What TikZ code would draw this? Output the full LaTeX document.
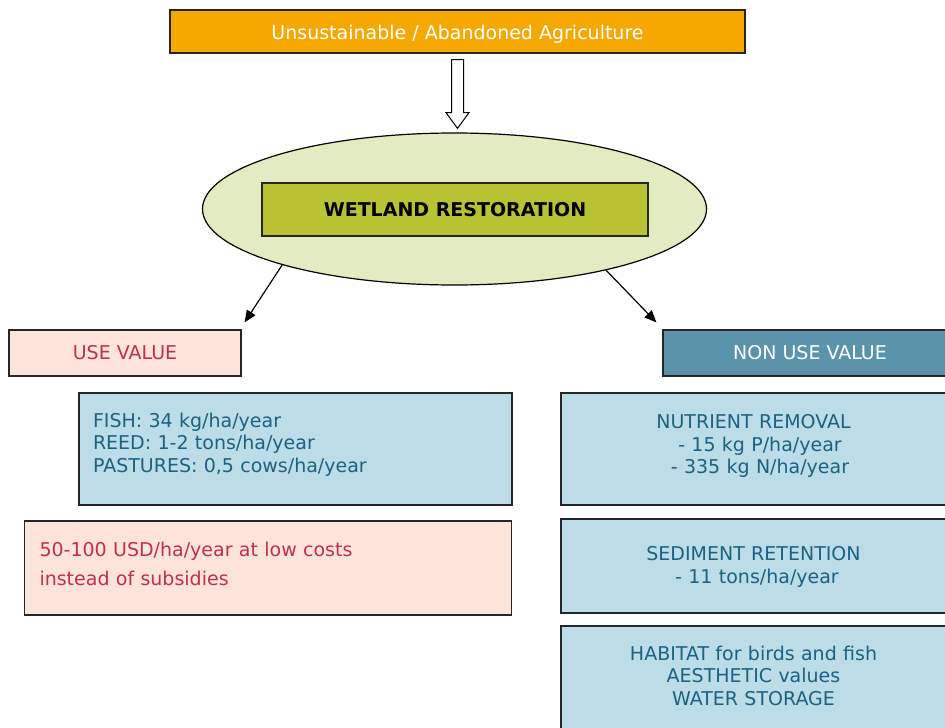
\documentclass[tikz,border=0pt]{standalone}
\usepackage{fontspec}
\setmainfont{DejaVu Sans}
\usetikzlibrary{shapes.geometric,arrows.meta,calc}

\definecolor{agri}{HTML}{F5A800}
\definecolor{marsh}{HTML}{E3EBC0}
\definecolor{reedgreen}{HTML}{B9C232}
\definecolor{usefill}{HTML}{FCE4DA}
\definecolor{usetext}{HTML}{C0304A}
\definecolor{nonusefill}{HTML}{5B93AB}
\definecolor{infofill}{HTML}{BCDCE8}
\definecolor{infotext}{HTML}{1B6283}

\begin{document}
\begin{tikzpicture}[
    x=1pt, y=-1pt,
    font=\fontsize{19}{22.5}\selectfont,
    panel/.style={draw=black!85, line width=1.2pt, inner sep=0pt},
    usecard/.style={panel, fill=usefill, text=usetext},
    infocard/.style={panel, fill=infofill, text=infotext, text height=0pt},
    rightcard/.style={infocard, minimum width=385, text width=385, align=center},
    link/.style={line width=1.2pt, -{Triangle[length=12pt, width=10pt]}},
]
    % Page frame
    \clip (0,0) rectangle (945,728);

    % Starting point
    \node[panel, fill=agri, text=white, minimum width=575, minimum height=43, text height=16pt, text depth=0pt] (source) at (457.5,31.5) {Unsustainable / Abandoned Agriculture};

    % Restoration
    \node[ellipse, draw, line width=1.2pt, fill=marsh, minimum width=504, minimum height=152] (restore) at (454.5,209) {};
    \node[panel, fill=reedgreen, minimum width=386, minimum height=53, font=\fontsize{19}{23}\selectfont\bfseries] (restoration) at (455,209.5) {WETLAND RESTORATION};

    % Hollow arrow
    \draw[line width=1pt, fill=white] ($(source.south)+(-6,6)$) -- ++(0,53) -- ++(-5.5,0)
        -- ($(source.south |- restore.north)+(0,-4)$) -- ($(source.south)+(11.5,59)$)
        -- ++(-5.5,0) -- ++(0,-53) -- cycle;

    % Value headers
    \node[usecard, minimum width=232, minimum height=46] (use) at (125,353) {USE VALUE};
    \node[panel, fill=nonusefill, text=white, minimum width=294, minimum height=46] (nonuse) at (810,353) {NON USE VALUE};

    \draw[link] (restore.198) -- ($(use.north east)+(3,-7)$);
    \draw[link] (restore.338) -- ($(nonuse.north west)+(-6,-7)$);

    % Use value
    \node[infocard, minimum width=433, minimum height=112, text width=405, align=left, text depth=44pt] (yield) at (295.5,449) {FISH: 34 kg/ha/year\\REED: 1-2 tons/ha/year\\PASTURES: 0,5 cows/ha/year};
    \node[usecard, minimum width=487, minimum height=94, text width=457, align=left, text height=0pt, text depth=24pt, font=\fontsize{19}{29.5}\selectfont] (income) at (268,568) {50-100 USD/ha/year at low costs\\instead of subsidies};

    % Non use value
    \node[rightcard, minimum height=112, text depth=41pt] (nutrient) at (753.5,449) {NUTRIENT REMOVAL\\\hspace*{13pt}- 15 kg P/ha/year\\\hspace*{13pt}- 335 kg N/ha/year};
    \node[rightcard, minimum height=94, text depth=11pt] (sediment) at (753.5,566) {SEDIMENT RETENTION\\\hspace*{7pt}- 11 tons/ha/year};
    \node[rightcard, minimum height=106, text depth=38pt] (habitat) at (753.5,679) {HABITAT for birds and fish\\AESTHETIC values\\WATER STORAGE};

\end{tikzpicture}
\end{document}
